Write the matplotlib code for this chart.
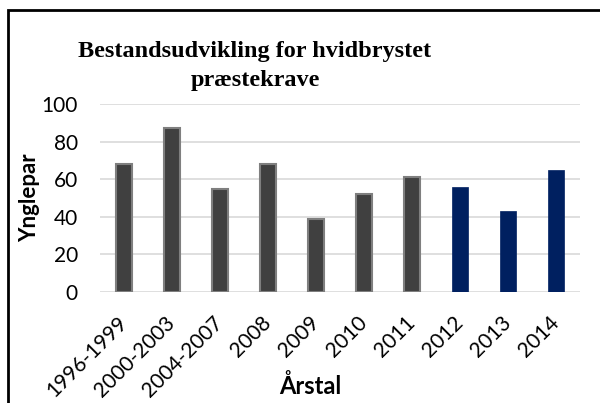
import matplotlib
matplotlib.use("Agg")
import matplotlib.pyplot as plt
from matplotlib.patches import Rectangle

categories = ["1996-1999", "2000-2003", "2004-2007", "2008", "2009", "2010", "2011", "2012", "2013", "2014"]
values = [68, 87, 55, 68, 39, 52, 61, 56, 43, 65]
is_new = [False, False, False, False, False, False, False, True, True, True]
yticks = [0, 20, 40, 60, 80, 100]

W, H = 600, 403
fig = plt.figure(figsize=(6, 4.03), dpi=100)
ax = fig.add_axes([100 / W, 1 - 292 / H, 480 / W, 188 / H])

x = list(range(len(categories)))
gray_x = [xi for xi, n in zip(x, is_new) if not n]
gray_v = [v for v, n in zip(values, is_new) if not n]
navy_x = [xi for xi, n in zip(x, is_new) if n]
navy_v = [v for v, n in zip(values, is_new) if n]

ax.bar(gray_x, gray_v, width=0.33, color="#404040", edgecolor="#7f7f7f", linewidth=1.5, zorder=3)
ax.bar(navy_x, navy_v, width=0.33, color="#002060", edgecolor="#002060", linewidth=0.5, zorder=3)

ax.set_xlim(-0.5, len(categories) - 0.5)
ax.set_ylim(0, 100)
ax.set_yticks(yticks)
ax.yaxis.grid(True, color="#d9d9d9", linewidth=1.2, zorder=0)
for s in ax.spines.values():
    s.set_visible(False)
ax.tick_params(length=0)
ax.set_xticks(x)
ax.set_xticklabels(categories, rotation=45, ha="right", va="center", rotation_mode="anchor",
                   fontsize=15, family="Lato")
for lab in ax.get_yticklabels():
    lab.set_fontsize(15)
    lab.set_family("Lato")
ax.tick_params(axis="y", pad=16)
ax.tick_params(axis="x", pad=20)

fig.text(30 / W, 1 - 198 / H, "Ynglepar", rotation=90, ha="center", va="center",
         fontsize=16, fontweight="bold", family="Lato")
fig.text(310 / W, 1 - 386 / H, "Årstal", ha="center", va="center",
         fontsize=17, fontweight="bold", family="Lato")
fig.text(255 / W, 1 - 66 / H, "Bestandsudvikling for hvidbrystet\npræstekrave", ha="center", va="center",
         fontsize=17.5, fontweight="bold", family="Liberation Serif", linespacing=1.55)

fig.patches.append(Rectangle((8 / W, -0.1), 1.2, 1 - 10 / H + 0.1, transform=fig.transFigure,
                             fill=False, edgecolor="black", linewidth=2))

fig.savefig("out.png", dpi=100)
